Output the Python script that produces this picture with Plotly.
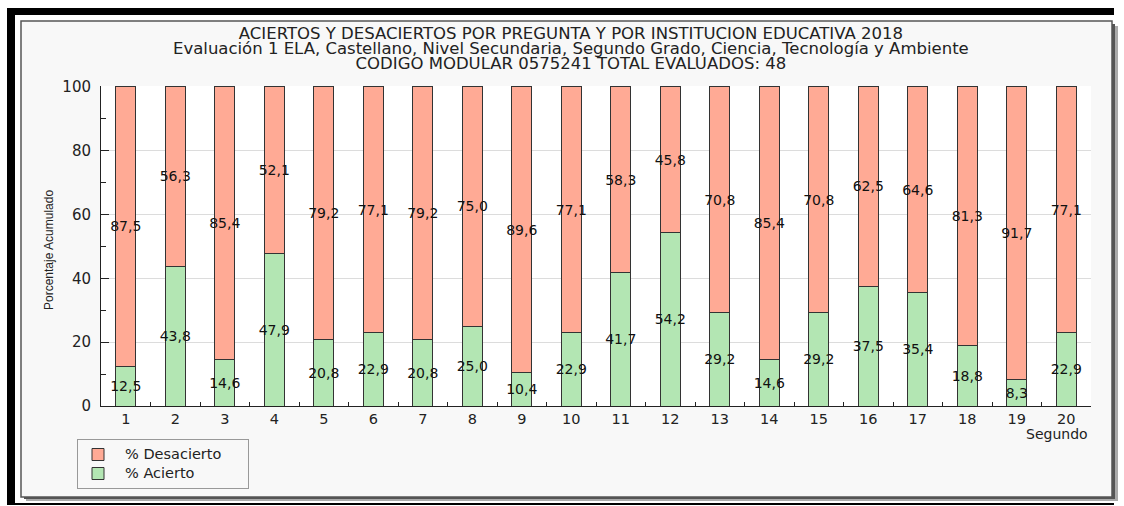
import plotly.graph_objects as go

preguntas = [str(i) for i in range(1, 21)]
acierto = [12.5, 43.8, 14.6, 47.9, 20.8, 22.9, 20.8, 25.0, 10.4, 22.9,
           41.7, 54.2, 29.2, 14.6, 29.2, 37.5, 35.4, 18.8, 8.3, 22.9]
desacierto = [87.5, 56.3, 85.4, 52.1, 79.2, 77.1, 79.2, 75.0, 89.6, 77.1,
              58.3, 45.8, 70.8, 85.4, 70.8, 62.5, 64.6, 81.3, 91.7, 77.1]
y_ticks = [0, 20, 40, 60, 80, 100]
y_minor = [10, 30, 50, 70, 90]

titulo = [
    "ACIERTOS Y DESACIERTOS POR PREGUNTA Y POR INSTITUCION EDUCATIVA 2018",
    "Evaluación 1 ELA, Castellano, Nivel Secundaria, Segundo Grado, Ciencia, Tecnología y Ambiente",
    "CODIGO MODULAR 0575241 TOTAL EVALUADOS: 48",
]

W, H = 1124, 506
L, R, T, B = 101, 1091, 86, 406


def fx(x):
    return (x - L) / (R - L)


def fy(y):
    return (B - y) / (B - T)


FONT = "DejaVu Sans"
GREEN = "#b3e6b3"
SALMON = "#ffaa95"


def legend_name(t):
    return "&nbsp;&nbsp;<span style='font-size:14.5px'>" + t + "</span>" + "&nbsp;" * 6


fig = go.Figure()
common = dict(
    texttemplate="%{y:.1f}",
    textposition="inside",
    insidetextanchor="middle",
    textangle=0,
    constraintext="none",
    cliponaxis=False,
    insidetextfont=dict(family=FONT, size=14, color="#111"),
    width=0.4,
)
fig.add_trace(go.Bar(x=preguntas, y=acierto, name=legend_name("% Acierto"),
                     marker=dict(color=GREEN, line=dict(color="#333", width=1)),
                     **common))
fig.add_trace(go.Bar(x=preguntas, y=desacierto, name=legend_name("% Desacierto"),
                     marker=dict(color=SALMON, line=dict(color="#333", width=1)),
                     **common))

shapes = [
    dict(type="rect", xref="paper", yref="paper", x0=fx(7), x1=fx(1114), y0=fy(505), y1=fy(8),
         fillcolor="black", line=dict(width=0), layer="below"),
    dict(type="rect", xref="paper", yref="paper", x0=fx(15), x1=fx(1124), y0=fy(503), y1=fy(15),
         fillcolor="white", line=dict(width=0), layer="below"),
    dict(type="rect", xref="paper", yref="paper", x0=fx(26), x1=fx(1118), y0=fy(501), y1=fy(26),
         fillcolor="#aaa", line=dict(width=0), layer="below"),
    dict(type="rect", xref="paper", yref="paper", x0=fx(24), x1=fx(1115), y0=fy(499), y1=fy(24),
         fillcolor="#555", line=dict(width=0), layer="below"),
    dict(type="rect", xref="paper", yref="paper", x0=fx(21), x1=fx(1112), y0=fy(497), y1=fy(21),
         fillcolor="#f8f8f8", line=dict(color="#555", width=1.5), layer="below"),
    dict(type="rect", xref="paper", yref="paper", x0=0, x1=1, y0=0, y1=1,
         fillcolor="white", line=dict(width=0), layer="below"),
]

title_html = "<br>".join(f"<span style='font-size:16.5px'>{t}</span>" for t in titulo)
annotations = [
    dict(text=title_html, xref="paper", yref="paper", x=fx(571), y=fy(49),
         xanchor="center", yanchor="middle", showarrow=False, align="center",
         font=dict(family=FONT, size=11.6, color="#222")),
    dict(text="Porcentaje Acumulado", xref="paper", yref="paper",
         x=fx(49), y=fy(250), xanchor="center", yanchor="middle",
         textangle=-90, showarrow=False,
         font=dict(family="Liberation Sans", size=12, color="#222")),
    dict(text="Segundo", xref="paper", yref="paper",
         x=fx(1090), y=fy(434), xanchor="right", yanchor="middle",
         showarrow=False, font=dict(family=FONT, size=14, color="#222")),
]

fig.update_layout(
    width=W, height=H,
    margin=dict(l=L, r=W - R, t=T, b=H - B, pad=0),
    paper_bgcolor="white", plot_bgcolor="white",
    barmode="stack",
    separators=",.",
    shapes=shapes,
    annotations=annotations,
    showlegend=True,
    legend=dict(x=fx(77), y=fy(439), xanchor="left", yanchor="top",
                traceorder="reversed", bgcolor="#f8f8f8", bordercolor="#999",
                borderwidth=1, font=dict(family=FONT, size=11, color="#222"),
                itemclick=False),
    font=dict(family=FONT, color="#222"),
)
fig.update_xaxes(
    type="category", range=[-0.5, 19.5], showline=True, linecolor="#222", linewidth=1,
    ticks="inside", ticklen=4, tickcolor="#222", tickson="boundaries",
    showgrid=False, tickfont=dict(family=FONT, size=14.5, color="#222"),
    fixedrange=True,
)
fig.update_yaxes(
    range=[0, 100.2], tickvals=y_ticks, showline=True, linecolor="#222", linewidth=1,
    ticks="inside", ticklen=8, tickcolor="#222", ticklabelstandoff=6,
    showgrid=True, gridcolor="#dcdcdc", gridwidth=1, zeroline=False,
    minor=dict(tickvals=y_minor, ticks="inside", ticklen=5, tickcolor="#222", showgrid=False),
    tickfont=dict(family=FONT, size=15, color="#222"),
    fixedrange=True,
)

fig.write_html("out.html", config={"displayModeBar": False},
               post_script="document.body.style.margin='0';document.body.style.overflow='hidden';")
